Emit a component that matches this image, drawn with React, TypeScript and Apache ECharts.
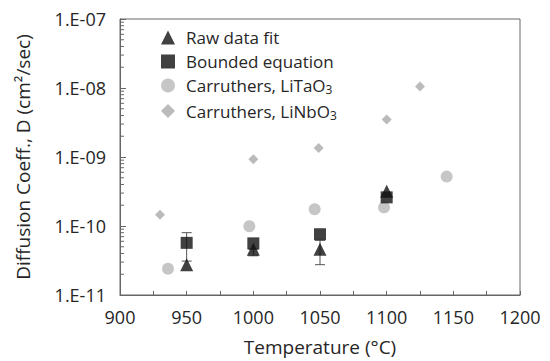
import React, { useEffect, useRef } from "react";
import * as echarts from "echarts";

const rawFit: [number, number][] = [
  [950, 2.75e-11],
  [1000, 4.6e-11],
  [1050, 4.6e-11],
  [1100, 3.2e-10],
];
const rawFitErr: [number, number, number][] = [
  [1000, 3.7e-11, 4.6e-11],
  [1050, 2.75e-11, 6.2e-11],
];
const bounded: [number, number][] = [
  [950, 5.7e-11],
  [1000, 5.6e-11],
  [1050, 7.6e-11],
  [1100, 2.6e-10],
];
const boundedErr: [number, number, number][] = [
  [950, 3.1e-11, 8.0e-11],
];
const liTaO3: [number, number][] = [
  [936, 2.4e-11],
  [997, 9.9e-11],
  [1046, 1.75e-10],
  [1098, 1.86e-10],
  [1145, 5.2e-10],
];
const liNbO3: [number, number][] = [
  [930, 1.45e-10],
  [1000, 9.3e-10],
  [1049, 1.35e-9],
  [1100, 3.5e-9],
  [1125, 1.05e-8],
];
const minorTickValues: number[] = [];
for (let e = -11; e <= -8; e++) {
  for (let m = 2; m <= 9; m++) minorTickValues.push(m * Math.pow(10, e));
}

const FONT = "Open Sans";
const TEXT = "#262626";

function errorRender(params: any, api: any) {
  const x = api.value(0);
  const lo = api.coord([x, api.value(1)]);
  const hi = api.coord([x, api.value(2)]);
  const hw = 5;
  const style = { stroke: "#555", lineWidth: 1 };
  return {
    type: "group",
    children: [
      { type: "line", shape: { x1: lo[0], y1: lo[1], x2: hi[0], y2: hi[1] }, style },
      { type: "line", shape: { x1: lo[0] - hw, y1: lo[1], x2: lo[0] + hw, y2: lo[1] }, style },
      { type: "line", shape: { x1: hi[0] - hw, y1: hi[1], x2: hi[0] + hw, y2: hi[1] }, style },
    ],
  };
}

export default function App() {
  const ref = useRef<HTMLDivElement>(null);
  useEffect(() => {
    document.body.style.margin = "0";
    const chart = echarts.init(ref.current!, undefined, { renderer: "svg" });
    const sub = { sub: { fontSize: 12, verticalAlign: "bottom", padding: [8, 0, 0, 0], fontFamily: FONT, color: TEXT } };
    chart.setOption({
      animation: false,
      backgroundColor: "#fff",
      textStyle: { fontFamily: FONT },
      grid: { left: 120, right: 30, top: 19, bottom: 66, show: true, borderColor: "#666", borderWidth: 1 },
      legend: {
        orient: "vertical",
        left: 156,
        top: 24,
        itemWidth: 14,
        itemHeight: 14,
        itemGap: 7,
        data: [
          { name: "Raw data fit", icon: "triangle" },
          { name: "Bounded equation", icon: "rect" },
          { name: "Carruthers, LiTaO3", icon: "circle" },
          { name: "Carruthers, LiNbO3", icon: "diamond" },
        ],
        formatter: (name: string) => name.replace(/O3$/, "O{sub|3}"),
        textStyle: { fontSize: 17, color: TEXT, fontFamily: FONT, padding: [0, 0, 0, 6], rich: sub },
      },
      xAxis: {
        type: "value",
        min: 900,
        max: 1200,
        interval: 50,
        name: "Temperature (°C)",
        nameLocation: "middle",
        nameGap: 42,
        nameTextStyle: { fontSize: 19, color: TEXT, fontFamily: FONT },
        axisLine: { lineStyle: { color: "#666" } },
        axisTick: { inside: true, length: 4, lineStyle: { color: "#666" } },
        minorTick: { show: true, splitNumber: 2, length: 4, lineStyle: { color: "#666" } },
        axisLabel: { fontSize: 18, color: TEXT, margin: 13, fontFamily: FONT, formatter: (v: number) => String(v) },
        splitLine: { show: false },
      },
      yAxis: {
        type: "log",
        logBase: 10,
        min: 1e-11,
        max: 1e-7,
        splitNumber: 4,
        name: "Diffusion Coeff., D (cm²/sec)",
        nameLocation: "middle",
        nameGap: 88,
        nameTextStyle: { fontSize: 19, color: TEXT, fontFamily: FONT },
        axisLine: { show: true, lineStyle: { color: "#666" } },
        axisTick: { show: true, inside: true, length: 6, lineStyle: { color: "#666" } },
        axisLabel: {
          fontSize: 18,
          color: TEXT,
          margin: 14,
          fontFamily: FONT,
          formatter: (v: number) => {
            const e = Math.round(Math.log10(v));
            return "1.E" + (e < 0 ? "-" : "+") + String(Math.abs(e)).padStart(2, "0");
          },
        },
        splitLine: { show: false },
      },
      series: [
        {
          name: "minor",
          type: "custom",
          silent: true,
          data: minorTickValues.map((v) => [900, v]),
          renderItem: (params: any, api: any) => {
            const p = api.coord([900, api.value(1)]);
            return { type: "line", shape: { x1: p[0], y1: p[1], x2: p[0] + 4, y2: p[1] }, style: { stroke: "#666", lineWidth: 1 } };
          },
          z: 1,
        },
        {
          name: "Carruthers, LiTaO3",
          type: "scatter",
          symbol: "circle",
          symbolSize: 12,
          itemStyle: { color: "#b8b8b8" },
          data: liTaO3,
          z: 2,
        },
        {
          name: "Carruthers, LiNbO3",
          type: "scatter",
          symbol: "diamond",
          symbolSize: 10,
          itemStyle: { color: "#aaaaaa" },
          data: liNbO3,
          z: 2,
        },
        {
          name: "Raw data fit",
          type: "scatter",
          symbol: "triangle",
          symbolSize: 13,
          itemStyle: { color: "#111" },
          data: rawFit,
          z: 3,
        },
        {
          name: "rawErr",
          type: "custom",
          data: rawFitErr,
          renderItem: errorRender,
          encode: { x: 0, y: [1, 2] },
          z: 3,
        },
        {
          name: "Bounded equation",
          type: "scatter",
          symbol: "rect",
          symbolSize: 12,
          itemStyle: { color: "#111" },
          data: bounded,
          z: 4,
        },
        {
          name: "boundedErr",
          type: "custom",
          data: boundedErr,
          renderItem: errorRender,
          encode: { x: 0, y: [1, 2] },
          z: 3,
        },
      ],
    });
    return () => chart.dispose();
  }, []);
  return <div ref={ref} style={{ width: 550, height: 361 }} />;
}
